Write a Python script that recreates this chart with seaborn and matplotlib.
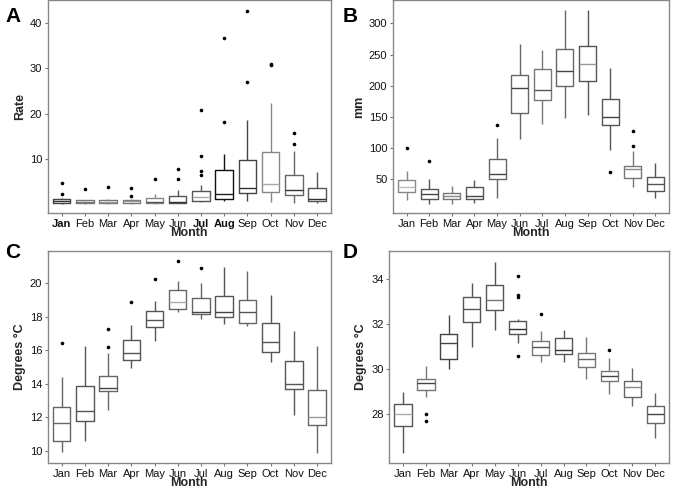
"""Boxplots mensuales (Rate, lluvia, temperaturas) en cuatro paneles."""

import matplotlib
matplotlib.use("Agg")
import matplotlib.pyplot as plt
import pandas as pd
import seaborn as sns

MESES = ["Jan", "Feb", "Mar", "Apr", "May", "Jun",
         "Jul", "Aug", "Sep", "Oct", "Nov", "Dec"]

# ── Panel A: Rate ───────────────────────────────────────────────────────────
A_LO = [0.3, 0.3, 0.3, 0.3, 0.3, 0.35, 0.66, 0.8, 0.87, 0.73, 0.5, 0.37]
A_Q1 = [0.5, 0.43, 0.4, 0.4, 0.44, 0.5, 0.95, 1.39, 2.7, 2.77, 2.11, 0.95]
A_MED = [0.87, 0.7, 0.7, 0.8, 0.7, 0.66, 1.68, 2.4, 3.64, 4.66, 3.2, 1.39]
A_Q3 = [1.25, 1.0, 1.0, 1.1, 1.53, 2.0, 3.06, 7.66, 9.78, 11.6, 6.49, 3.79]
A_HI = [1.5, 1.1, 1.3, 1.4, 2.34, 3.4, 4.3, 11.16, 18.75, 22.4, 11.8, 7.15]
A_OUT = [[2.34, 4.75], [3.57], [3.87], [2.04, 3.65], [5.69], [5.8, 7.8],
         [6.7, 7.37, 10.8, 20.8], [18.2, 36.7], [27.1, 42.7], [30.8, 31.0],
         [13.3, 15.8], []]

# ── Panel B: lluvia (mm) ───────────────────────────────────────────────────
B_LO = [15.6, 9.6, 9.6, 10.7, 19.3, 114, 138, 148, 152.6, 95.9, 37.5, 18.8]
B_Q1 = [28.4, 18.2, 17.1, 17.1, 49.8, 156.3, 176.7, 199.7, 207, 137, 50.9, 31]
B_MED = [36.4, 25.7, 22.5, 23, 57.3, 196, 192.2, 223, 234, 149.9, 66.4, 41.2]
B_Q3 = [47.7, 33.2, 26.8, 36.4, 82.4, 217.3, 227, 259, 264.5, 178.8, 70.2, 53.5]
B_HI = [62.6, 49.8, 38.5, 47.7, 116, 267.6, 257, 321, 321, 228, 95.3, 75.5]
B_OUT = [[100], [79.2], [], [], [136], [], [], [], [], [61], [103.3, 126.9], []]

# ── Panel C: temperatura mínima (°C) ───────────────────────────────────────
C_LO = [9.94, 10.6, 12.43, 14.95, 16.57, 18.27, 17.85, 17.6, 17.44, 15.32, 12.17, 9.86]
C_Q1 = [10.61, 11.8, 13.57, 15.43, 17.38, 18.5, 18.17, 17.99, 17.66, 15.92, 13.71, 11.54]
C_MED = [11.68, 12.37, 13.77, 15.82, 17.83, 18.88, 18.3, 18.28, 18.28, 16.53, 14.0, 12.03]
C_Q3 = [12.64, 13.85, 14.46, 16.65, 18.37, 19.61, 19.14, 19.23, 19.0, 17.62, 15.35, 13.65]
C_HI = [14.44, 16.25, 15.84, 17.5, 18.92, 20.14, 20.02, 21.0, 20.71, 19.29, 17.18, 16.25]
C_OUT = [[16.47], [], [16.2, 17.26], [18.9], [20.26], [21.33], [20.9],
         [], [], [], [], []]

# ── Panel D: temperatura máxima (°C) ───────────────────────────────────────
D_LO = [26.29, 28.76, 30.01, 31.01, 31.76, 31.16, 30.32, 30.31, 29.56, 28.88, 28.35, 26.93]
D_Q1 = [27.49, 29.06, 30.44, 32.12, 32.63, 31.57, 30.62, 30.68, 30.09, 29.5, 28.78, 27.62]
D_MED = [28.03, 29.38, 31.16, 32.66, 33.09, 31.78, 31.01, 30.85, 30.46, 29.69, 29.22, 28.01]
D_Q3 = [28.46, 29.59, 31.59, 33.22, 33.76, 32.16, 31.28, 31.37, 30.74, 29.94, 29.49, 28.35]
D_HI = [28.99, 30.13, 32.4, 33.84, 34.79, 32.24, 31.71, 31.74, 31.44, 30.5, 30.04, 28.93]
D_OUT = [[], [27.69, 27.99], [], [], [], [30.6, 33.22, 33.29, 34.15], [32.47],
         [], [], [30.88], [], []]

# Tonos de gris de cajas y medianas (el original no es uniforme)
A_GRIS = ["#444", "#777", "#777", "#777", "#888", "#555",
          "#555", "#111", "#444", "#888", "#666", "#555"]
A_GRIS_MED = ["#333", "#777", "#999", "#999", "#555", "#333",
              "#aaa", "#222", "#333", "#aaa", "#333", "#333"]
B_GRIS = ["#888", "#555", "#777", "#555", "#666", "#666",
          "#777", "#666", "#555", "#555", "#777", "#555"]
B_GRIS_MED = ["#bbb", "#444", "#888", "#444", "#444", "#444",
              "#555", "#444", "#999", "#444", "#888", "#555"]
C_GRIS = ["#666", "#555", "#666", "#555", "#555", "#666",
          "#666", "#555", "#666", "#555", "#555", "#666"]
C_GRIS_MED = ["#666", "#555", "#444", "#555", "#555", "#aaa",
              "#444", "#444", "#555", "#555", "#555", "#999"]
D_GRIS = ["#555", "#777", "#444", "#555", "#555", "#555",
          "#777", "#555", "#777", "#777", "#666", "#666"]
D_GRIS_MED = ["#aaa", "#444", "#444", "#555", "#777", "#333",
              "#555", "#333", "#666", "#444", "#888", "#444"]

FUENTE = ["Liberation Sans", "DejaVu Sans"]


def tabla_cajas(lo, q1, med, q3, hi):
    """Cinco puntos por mes: sus cuartiles coinciden con los valores leídos."""
    filas = []
    for i, mes in enumerate(MESES):
        for v in (lo[i], q1[i], med[i], q3[i], hi[i]):
            filas.append({"Month": mes, "valor": v})
    return pd.DataFrame(filas)


def tabla_atipicos(out):
    filas = [{"Month": m, "valor": v} for m, vals in zip(MESES, out) for v in vals]
    return pd.DataFrame(filas, columns=["Month", "valor"])


def panel(ax, lo, q1, med, q3, hi, out, grises, grises_med, ylabel,
          yticks, ylim, negritas=()):
    df = tabla_cajas(lo, q1, med, q3, hi)
    sns.boxplot(data=df, x="Month", y="valor", hue="Month", order=MESES,
                hue_order=MESES, palette=grises, fill=False, legend=False,
                whis=(0, 100), showfliers=False, showcaps=False, width=0.75,
                linewidth=1.0, ax=ax)
    # medianas con su propio tono
    meds = [l for l in ax.lines if len(l.get_xdata()) == 2
            and l.get_ydata()[0] == l.get_ydata()[1]]
    for linea in meds:
        x = sum(linea.get_xdata()) / 2
        linea.set_color(grises_med[int(round(x))])

    dfo = tabla_atipicos(out)
    sns.stripplot(data=dfo, x="Month", y="valor", order=MESES, jitter=False,
                  color="black", size=2.6, linewidth=0, ax=ax)

    ax.set_xlim(-0.6, 11.6)
    ax.set_ylim(*ylim)
    ax.set_yticks(yticks)
    ax.set_yticklabels([str(t) for t in yticks])
    ax.set_xlabel("Month", fontsize=9, fontweight="bold", labelpad=-1,
                  family=FUENTE)
    ax.set_ylabel(ylabel, fontsize=9, fontweight="bold", labelpad=3,
                  family=FUENTE)
    ax.tick_params(axis="both", which="both", direction="out", length=2.5,
                   width=0.8, color="#777", labelsize=8, pad=1.5,
                   labelcolor="#111", bottom=True, left=True)
    for lbl in ax.get_xticklabels():
        if lbl.get_text() in negritas:
            lbl.set_fontweight("bold")
    for spine in ax.spines.values():
        spine.set_visible(True)
        spine.set_color("#888")
        spine.set_linewidth(1.0)
    ax.grid(False)


sns.set_theme(style="white")
plt.rcParams["font.family"] = FUENTE

fig = plt.figure(figsize=(6.75, 4.9), dpi=100)
fig.patch.set_facecolor("white")

ax_a = fig.add_axes([0.0707, 0.5653, 0.4197, 0.4337])
ax_b = fig.add_axes([0.5822, 0.5653, 0.4089, 0.4337])
ax_c = fig.add_axes([0.0707, 0.055, 0.4197, 0.4327])
ax_d = fig.add_axes([0.5767, 0.055, 0.4144, 0.4327])

panel(ax_a, A_LO, A_Q1, A_MED, A_Q3, A_HI, A_OUT, A_GRIS, A_GRIS_MED,
      "Rate", [10, 20, 30, 40], (-1.75, 44.9), negritas=("Jan", "Jul", "Aug"))
panel(ax_b, B_LO, B_Q1, B_MED, B_Q3, B_HI, B_OUT, B_GRIS, B_GRIS_MED,
      "mm", [50, 100, 150, 200, 250, 300], (-5, 337))
panel(ax_c, C_LO, C_Q1, C_MED, C_Q3, C_HI, C_OUT, C_GRIS, C_GRIS_MED,
      "Degrees °C", [10, 12, 14, 16, 18, 20], (9.28, 21.93))
panel(ax_d, D_LO, D_Q1, D_MED, D_Q3, D_HI, D_OUT, D_GRIS, D_GRIS_MED,
      "Degrees °C", [28, 30, 32, 34], (25.83, 35.26))

# letras de panel
for letra, x, y in [("A", 0.008, 0.985), ("B", 0.508, 0.985),
                    ("C", 0.008, 0.505), ("D", 0.508, 0.505)]:
    fig.text(x, y, letra, fontsize=15, fontweight="bold", va="top",
             ha="left", color="black")

fig.savefig("out.png", dpi=100)
